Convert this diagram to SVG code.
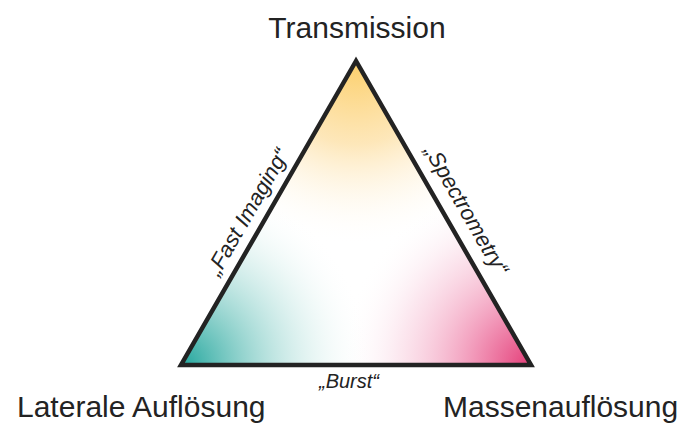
<svg xmlns="http://www.w3.org/2000/svg" width="684" height="425" viewBox="0 0 684 425">
<style>
.lbl{font-family:"Liberation Sans",Arial,sans-serif;font-size:30px;fill:#232323}
.it{font-family:"Liberation Sans",Arial,sans-serif;font-size:22px;font-style:italic;fill:#232323}
.it2{font-family:"Liberation Sans",Arial,sans-serif;font-size:20px;font-style:italic;fill:#232323}
</style>
<defs>
<radialGradient id="gy" gradientUnits="userSpaceOnUse" cx="356" cy="61" r="185">
<stop offset="0" stop-color="#fccf6a" stop-opacity="1"/>
<stop offset="0.45" stop-color="#fde1a8" stop-opacity="0.8"/>
<stop offset="1" stop-color="#ffffff" stop-opacity="0"/>
</radialGradient>
<radialGradient id="gt" gradientUnits="userSpaceOnUse" cx="181" cy="365" r="190">
<stop offset="0" stop-color="#22a69d" stop-opacity="1"/>
<stop offset="0.3" stop-color="#7fcbc5" stop-opacity="0.9"/>
<stop offset="0.7" stop-color="#d2edea" stop-opacity="0.5"/>
<stop offset="1" stop-color="#ffffff" stop-opacity="0"/>
</radialGradient>
<radialGradient id="gp" gradientUnits="userSpaceOnUse" cx="531" cy="365" r="190">
<stop offset="0" stop-color="#e43d78" stop-opacity="1"/>
<stop offset="0.3" stop-color="#f08bb0" stop-opacity="0.9"/>
<stop offset="0.7" stop-color="#f9d2e1" stop-opacity="0.5"/>
<stop offset="1" stop-color="#ffffff" stop-opacity="0"/>
</radialGradient>
</defs>
<g id="triangle">
<polygon points="356,61 181,365 531,365" fill="#ffffff"/>
<polygon points="356,61 181,365 531,365" fill="url(#gy)"/>
<polygon points="356,61 181,365 531,365" fill="url(#gt)"/>
<polygon points="356,61 181,365 531,365" fill="url(#gp)"/>
<polygon points="356,61 181,365 531,365" fill="none" stroke="#232323" stroke-width="4.5" stroke-linejoin="miter"/>
</g>
<g id="node-transmission"><text class="lbl" x="357" y="38" text-anchor="middle">Transmission</text></g>
<g id="node-lateral"><text class="lbl" x="17" y="417">Laterale Auflösung</text></g>
<g id="node-masse"><text class="lbl" x="443" y="417">Massenauflösung</text></g>
<g id="connectors">
<text class="it" transform="translate(254,215.5) rotate(-60)" text-anchor="middle">„Fast Imaging“</text>
<text class="it" transform="translate(460,213.5) rotate(60)" text-anchor="middle">„Spectrometry“</text>
<text class="it2" x="349" y="388" text-anchor="middle">„Burst“</text>
</g>
</svg>
